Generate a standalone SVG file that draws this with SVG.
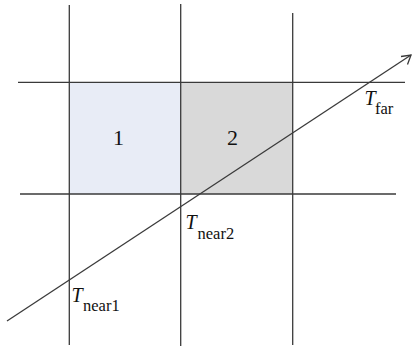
<svg xmlns="http://www.w3.org/2000/svg" width="413" height="350" viewBox="0 0 413 350">
<style>
.ln{stroke:#3a3a3a;stroke-width:1.3;fill:none}
.t{font-family:"Liberation Serif","Times New Roman",serif;fill:#111111}
.it{font-style:italic;font-size:20px}
.sub{font-size:16.5px}
.num{font-size:22px;text-anchor:middle}
</style>
<rect width="413" height="350" fill="#ffffff"/>
<g id="cell1">
<rect x="69.3" y="82.3" width="111.4" height="111.7" fill="#e8ecf6"/>
<text class="t num" x="118.5" y="144.5">1</text>
</g>
<g id="cell2">
<rect x="180.7" y="82.3" width="112" height="111.7" fill="#d9d9d9"/>
<text class="t num" x="232.5" y="144.5">2</text>
</g>
<g id="connectors">
<line class="ln" x1="69.3" y1="5" x2="69.3" y2="345"/>
<line class="ln" x1="180.7" y1="4" x2="180.7" y2="346"/>
<line class="ln" x1="292.7" y1="13" x2="292.7" y2="345"/>
<line class="ln" x1="18" y1="82.3" x2="405" y2="82.3"/>
<line class="ln" x1="20" y1="194" x2="396" y2="194"/>
<line class="ln" x1="7" y1="321" x2="411" y2="55"/>
<polyline class="ln" points="401,56.5 411,55 407.5,64.5"/>
</g>
<g id="label-far">
<text class="t" x="364.5" y="105"><tspan class="it">T</tspan><tspan class="sub" x="375" y="113.5">far</tspan></text>
</g>
<g id="label-near2">
<text class="t" x="185.5" y="229"><tspan class="it">T</tspan><tspan class="sub" x="197.5" y="238.5">near2</tspan></text>
</g>
<g id="label-near1">
<text class="t" x="71.5" y="302"><tspan class="it">T</tspan><tspan class="sub" x="83" y="310.5">near1</tspan></text>
</g>
</svg>
